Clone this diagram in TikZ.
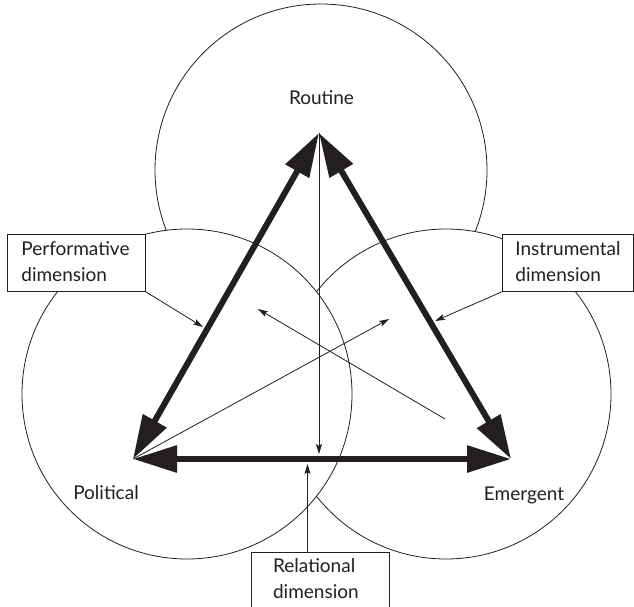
\documentclass[tikz,border=0pt]{standalone}
\usepackage{fontspec}
\setmainfont{Lato}
\usetikzlibrary{arrows.meta}
\definecolor{ink}{HTML}{231F20}
\tikzset{
  ring/.style={draw=ink, line width=0.8pt, fill=white},
  dimbox/.style={draw=ink, line width=0.8pt, fill=white, rectangle, align=left,
    font=\fontsize{19}{26}\selectfont, text=ink, anchor=north west,
    minimum height=57pt, inner ysep=0pt},
  pole/.style={font=\fontsize{19}{26}\selectfont, text=ink, anchor=base},
  bond/.style={draw=ink, line width=6pt,
    {Triangle[length=44pt,width=26pt]}-{Triangle[length=44pt,width=26pt]}},
  link/.style={draw=ink, line width=0.8pt, -{Stealth[length=10pt,width=6pt,inset=2pt]}},
}
\begin{document}
\begin{tikzpicture}[x=1pt,y=-1pt]
\clip (0,0) rectangle (634,607);

% three overlapping modes, later circles cover earlier ones
\filldraw[ring] (321,170) circle[radius=166pt];
\filldraw[ring] (446,394) circle[radius=165pt];
\filldraw[ring] (187,394) circle[radius=165pt];

% triangle corners
\coordinate (R) at (319,133);
\coordinate (P) at (133,459);
\coordinate (E) at (511,459);

% mode labels
\node[pole] (routine) at (321.5,105) {Routine};
\node[pole] (political) at (106,499.5) {Political};
\node[pole] (emergent) at (524,500) {Emergent};

% dimension boxes
\node[dimbox, text width=110pt, inner xsep=14pt] (perf) at (7,234)
  {\strut Performative\\\strut dimension};
\node[dimbox, text width=105.3pt, inner xsep=13pt] (instr) at (502,234)
  {\strut Instrumental\\\strut dimension};
\node[dimbox, text width=94.3pt, inner xsep=22pt] (rel) at (250.7,551.7)
  {\strut Relational\\\strut dimension};

% thin pointers
\coordinate (perfTip) at (203,327);
\coordinate (instrTip) at (435,321);
\coordinate (relFoot) at (307.5,551.7);
\coordinate (relTip) at (307.5,464);
\coordinate (midTip) at (319,454);
\coordinate (crossTipA) at (389,319);
\coordinate (crossTail) at (445,419);
\coordinate (crossTipB) at (258,309);

\draw[link] (perf.south east) -- (perfTip);
\draw[link] (instr.south west) -- (instrTip);
\draw[link] (relFoot) -- (relTip);
\draw[link] (R) -- (midTip);
\draw[link] (P) -- (crossTipA);
\draw[link] (crossTail) -- (crossTipB);

% heavy two-way links between the modes
\draw[bond] (P) -- (R);
\draw[bond] (R) -- (E);
\draw[bond] (P) -- (E);
\end{tikzpicture}
\end{document}
